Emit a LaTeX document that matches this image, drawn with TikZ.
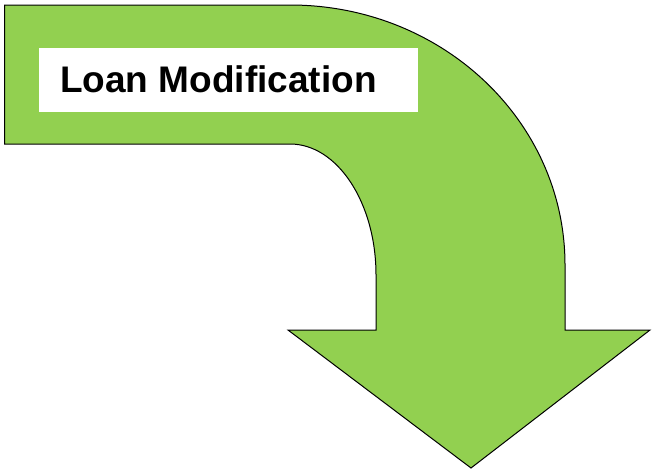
\documentclass[tikz,border=0pt]{standalone}
\usepackage{xcolor}
\usepackage{fontspec}
\setmainfont{Liberation Sans}
\usepackage{tikz}
\usetikzlibrary{calc}
\usetikzlibrary{positioning}
\definecolor{arrowgreen}{HTML}{92D050}

\begin{document}
\begin{tikzpicture}[x=1pt, y=-1pt]
\useasboundingbox (0,0) rectangle (652,471);
\coordinate (start) at (4.5,5);
\coordinate (tip) at (471,468);
\draw [fill=arrowgreen, draw=black, line width=1pt, line join=miter]
  (start) -- (290,5) .. controls (442,5) and (565,121) .. (565,265)
  -- (565,330) -- (650,330) -- (tip) -- (288,330) -- (376,330)
  -- (376,275) .. controls (376,203) and (337.5,144) .. (290,144)
  -- (4.5,144) -- cycle;
\node [rectangle, fill=white, draw=none, minimum width=379pt, minimum height=64pt, inner sep=0pt, anchor=north west] (box) at (39,48) {};
\node [anchor=base west, inner sep=0pt, font=\fontsize{37}{44}\selectfont\bfseries] (label) at (60,92) {Loan Modification};
\end{tikzpicture}
\end{document}
